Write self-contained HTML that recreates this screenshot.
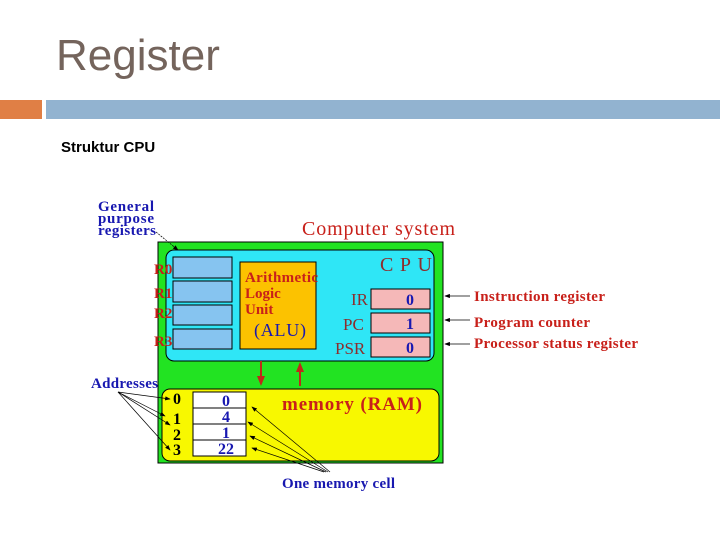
<!DOCTYPE html>
<html><head><meta charset="utf-8"><style>
body{margin:0;width:720px;height:540px;background:#fff;overflow:hidden;position:relative;font-family:"Liberation Sans",sans-serif}
.t{position:absolute;left:56px;top:31px;font-size:44px;color:#74645c}
.o{position:absolute;left:0;top:100px;width:42px;height:19px;background:#e07f45}
.b{position:absolute;left:46px;top:100px;width:674px;height:19px;background:#92b3d0}
.s{position:absolute;left:61px;top:139px;font-size:15px;font-weight:bold;color:#000}
svg{position:absolute;left:0;top:0}
</style></head><body>
<div class="t">Register</div><div class="o"></div><div class="b"></div>
<div class="s">Struktur CPU</div>
<svg width="720" height="540" font-family="Liberation Serif, serif" font-weight="bold">
<defs><marker id="a" markerWidth="8" markerHeight="6" refX="7" refY="3" orient="auto"><path d="M0,0L8,3L0,6z" fill="#000"/></marker>
<marker id="r" markerWidth="5" markerHeight="4" refX="4" refY="2" orient="auto"><path d="M0,0L5,2L0,4z" fill="#c0281a"/></marker></defs>
<rect x="158" y="242" width="285" height="221" fill="#22e322" stroke="#000" stroke-width="1"/>
<rect x="166" y="250" width="268" height="111" rx="8" fill="#2fe6f6" stroke="#000" stroke-width="1"/>
<rect x="173" y="257" width="59" height="21" fill="#86c4f0" stroke="#000"/>
<rect x="173" y="281" width="59" height="21" fill="#86c4f0" stroke="#000"/>
<rect x="173" y="305" width="59" height="20" fill="#86c4f0" stroke="#000"/>
<rect x="173" y="329" width="59" height="20" fill="#86c4f0" stroke="#000"/>
<rect x="240" y="262" width="76" height="87" fill="#fcc200" stroke="#000"/>
<rect x="371" y="289" width="59" height="20" fill="#f5b8b8" stroke="#000"/>
<rect x="371" y="313" width="59" height="20" fill="#f5b8b8" stroke="#000"/>
<rect x="371" y="337" width="59" height="20" fill="#f5b8b8" stroke="#000"/>
<rect x="162" y="389" width="277" height="72" rx="8" fill="#f8f800" stroke="#000"/>
<rect x="193" y="392" width="53" height="64" fill="#fff" stroke="#000"/>
<line x1="193" y1="408" x2="246" y2="408" stroke="#000"/><line x1="193" y1="424" x2="246" y2="424" stroke="#000"/><line x1="193" y1="440" x2="246" y2="440" stroke="#000"/>
<line x1="261" y1="361" x2="261" y2="384" stroke="#c0281a" stroke-width="2" marker-end="url(#r)"/>
<line x1="300" y1="386" x2="300" y2="364" stroke="#c0281a" stroke-width="2" marker-end="url(#r)"/>
<g fill="#1818b0" font-size="15"><text x="98" y="211" textLength="56">General</text><text x="98" y="223" textLength="56">purpose</text><text x="98" y="235" textLength="58">registers</text>
<text x="91" y="388" textLength="67">Addresses</text><text x="282" y="488" textLength="113">One memory cell</text></g>
<g stroke="#000" stroke-width="0.7" fill="none">
<line x1="156" y1="232" x2="178" y2="250" stroke-dasharray="2,1" marker-end="url(#a)"/>
<line x1="118" y1="392" x2="170" y2="399" marker-end="url(#a)"/>
<line x1="118" y1="392" x2="165" y2="416" marker-end="url(#a)"/>
<line x1="118" y1="392" x2="170" y2="425" marker-end="url(#a)"/>
<line x1="118" y1="392" x2="170" y2="450" marker-end="url(#a)"/>
<line x1="330" y1="472" x2="252" y2="407" marker-end="url(#a)"/>
<line x1="328" y1="472" x2="248" y2="422" marker-end="url(#a)"/>
<line x1="326" y1="472" x2="250" y2="436" marker-end="url(#a)"/>
<line x1="324" y1="472" x2="252" y2="448" marker-end="url(#a)"/>
<line x1="470" y1="296" x2="445" y2="296" marker-end="url(#a)"/>
<line x1="470" y1="320" x2="445" y2="320" marker-end="url(#a)"/>
<line x1="470" y1="344" x2="445" y2="344" marker-end="url(#a)"/>
</g>
<g fill="#c8201a"><text x="302" y="235" font-size="20" font-weight="normal" textLength="153">Computer system</text>
<g font-size="15"><text x="154" y="274">R0</text><text x="154" y="298">R1</text><text x="154" y="318">R2</text><text x="154" y="346">R3</text>
<text x="245" y="282" textLength="73">Arithmetic</text><text x="245" y="298">Logic</text><text x="245" y="314">Unit</text>
<text x="474" y="301" textLength="131">Instruction register</text><text x="474" y="327" textLength="116">Program counter</text><text x="474" y="348" textLength="164">Processor status register</text></g>
<text x="282" y="410" font-size="19" textLength="140">memory (RAM)</text></g>
<g fill="#8c2e2e" font-size="17" font-weight="normal"><text x="380" y="271" font-size="20" textLength="52">CPU</text><text x="351" y="305">IR</text><text x="343" y="330">PC</text><text x="335" y="354">PSR</text></g>
<text x="254" y="336" font-size="18" fill="#1818b0" font-weight="normal" textLength="52">(ALU)</text>
<g fill="#1818b0" font-size="16" text-anchor="middle"><text x="410" y="305">0</text><text x="410" y="329">1</text><text x="410" y="353">0</text>
<text x="226" y="406">0</text><text x="226" y="422">4</text><text x="226" y="438">1</text><text x="226" y="454">22</text></g>
<g fill="#000" font-size="16"><text x="173" y="404">0</text><text x="173" y="424">1</text><text x="173" y="440">2</text><text x="173" y="455">3</text></g>
</svg>
</body></html>
